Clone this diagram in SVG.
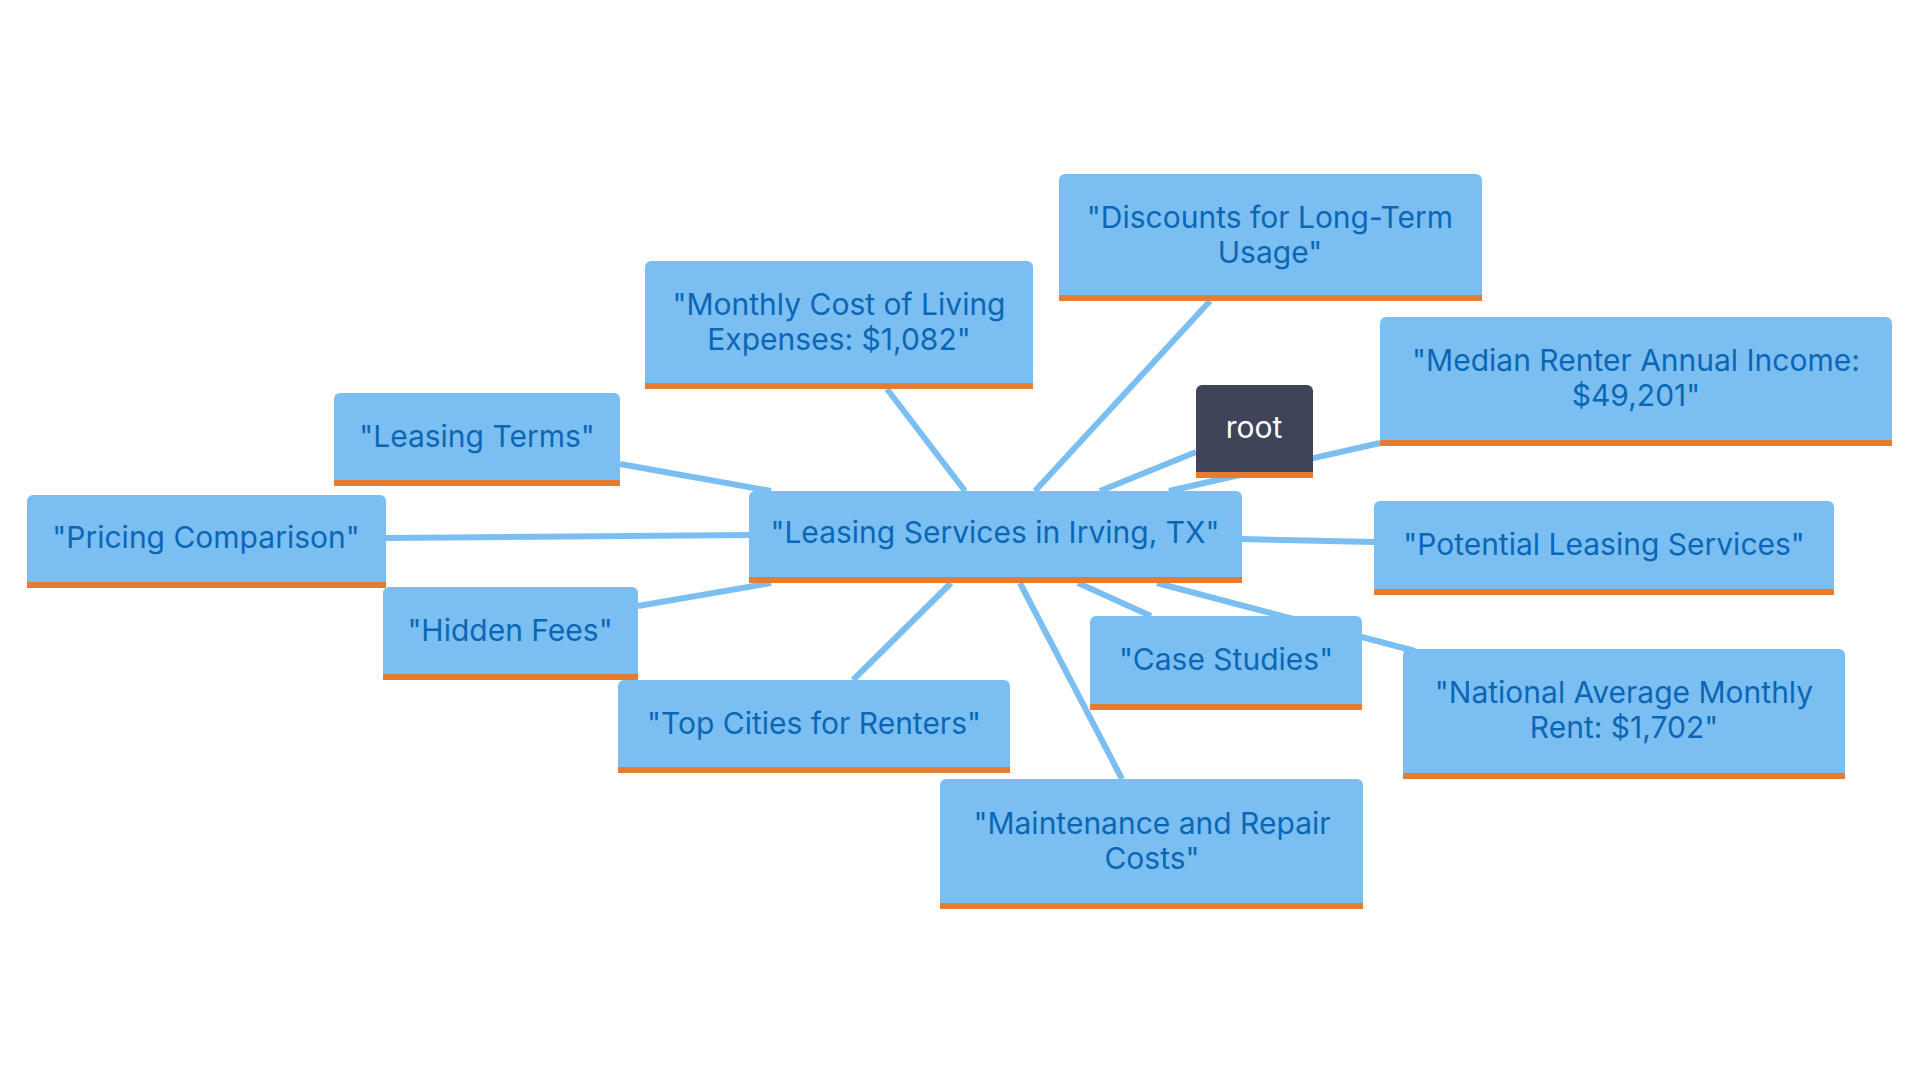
<svg xmlns="http://www.w3.org/2000/svg" width="1920" height="1080" viewBox="0 0 1920 1080">
<style>
.b{fill:#7bbff2}
.o{fill:#e57c2f}
.t{font-family:Inter,"Noto Sans",sans-serif;font-size:30px;fill:#0b67b5;text-anchor:middle}
.r{fill:#3f4459}
.rt{font-family:Inter,"Noto Sans",sans-serif;font-size:30px;fill:#ffffff;text-anchor:middle}
#edges line{stroke:#7bbff2;stroke-width:6}
</style>
<rect width="1920" height="1080" fill="#fff"/>
<g id="edges">
<line x1="771" y1="491" x2="620" y2="464"/>
<line x1="749" y1="535" x2="386" y2="538"/>
<line x1="771" y1="583" x2="638" y2="606"/>
<line x1="951" y1="583" x2="853" y2="680"/>
<line x1="1020" y1="583" x2="1122" y2="779"/>
<line x1="1078" y1="583" x2="1151" y2="616"/>
<line x1="1157" y1="583" x2="1415" y2="651"/>
<line x1="1242" y1="539" x2="1374" y2="542"/>
<line x1="1169" y1="491" x2="1380" y2="443"/>
<line x1="1100" y1="491" x2="1196" y2="452"/>
<line x1="1035" y1="491" x2="1210" y2="301"/>
<line x1="965" y1="491" x2="887" y2="389"/>
</g>
<g id="n1"><rect class="b" x="1059" y="174" width="423" height="127" rx="6"/><rect class="o" x="1059" y="295" width="423" height="6"/><text class="t" x="1270" y="228">"Discounts for Long-Term</text><text class="t" x="1270" y="263">Usage"</text></g>
<g id="n2"><rect class="b" x="645" y="261" width="388" height="128" rx="6"/><rect class="o" x="645" y="383" width="388" height="6"/><text class="t" x="839" y="315">"Monthly Cost of Living</text><text class="t" x="839" y="350">Expenses: $1,082"</text></g>
<g id="root"><rect class="r" x="1196" y="385" width="117" height="93" rx="6"/><rect class="o" x="1196" y="472" width="117" height="6"/><text class="rt" x="1254" y="438">root</text></g>
<g id="n3"><rect class="b" x="1380" y="317" width="512" height="129" rx="6"/><rect class="o" x="1380" y="440" width="512" height="6"/><text class="t" x="1636" y="371">"Median Renter Annual Income:</text><text class="t" x="1636" y="406">$49,201"</text></g>
<g id="n4"><rect class="b" x="334" y="393" width="286" height="93" rx="6"/><rect class="o" x="334" y="480" width="286" height="6"/><text class="t" x="477" y="447">"Leasing Terms"</text></g>
<g id="n5"><rect class="b" x="27" y="495" width="359" height="93" rx="6"/><rect class="o" x="27" y="582" width="359" height="6"/><text class="t" x="206" y="548">"Pricing Comparison"</text></g>
<g id="center"><rect class="b" x="749" y="491" width="493" height="92" rx="6"/><rect class="o" x="749" y="577" width="493" height="6"/><text class="t" x="995" y="543">"Leasing Services in Irving, TX"</text></g>
<g id="n6"><rect class="b" x="1374" y="501" width="460" height="94" rx="6"/><rect class="o" x="1374" y="589" width="460" height="6"/><text class="t" x="1604" y="555">"Potential Leasing Services"</text></g>
<g id="n7"><rect class="b" x="383" y="587" width="255" height="93" rx="6"/><rect class="o" x="383" y="674" width="255" height="6"/><text class="t" x="510" y="641">"Hidden Fees"</text></g>
<g id="n8"><rect class="b" x="1090" y="616" width="272" height="94" rx="6"/><rect class="o" x="1090" y="704" width="272" height="6"/><text class="t" x="1226" y="670">"Case Studies"</text></g>
<g id="n9"><rect class="b" x="1403" y="649" width="442" height="130" rx="6"/><rect class="o" x="1403" y="773" width="442" height="6"/><text class="t" x="1624" y="703">"National Average Monthly</text><text class="t" x="1624" y="738">Rent: $1,702"</text></g>
<g id="n10"><rect class="b" x="618" y="680" width="392" height="93" rx="6"/><rect class="o" x="618" y="767" width="392" height="6"/><text class="t" x="814" y="734">"Top Cities for Renters"</text></g>
<g id="n11"><rect class="b" x="940" y="779" width="423" height="130" rx="6"/><rect class="o" x="940" y="903" width="423" height="6"/><text class="t" x="1152" y="834">"Maintenance and Repair</text><text class="t" x="1152" y="869">Costs"</text></g>
</svg>
